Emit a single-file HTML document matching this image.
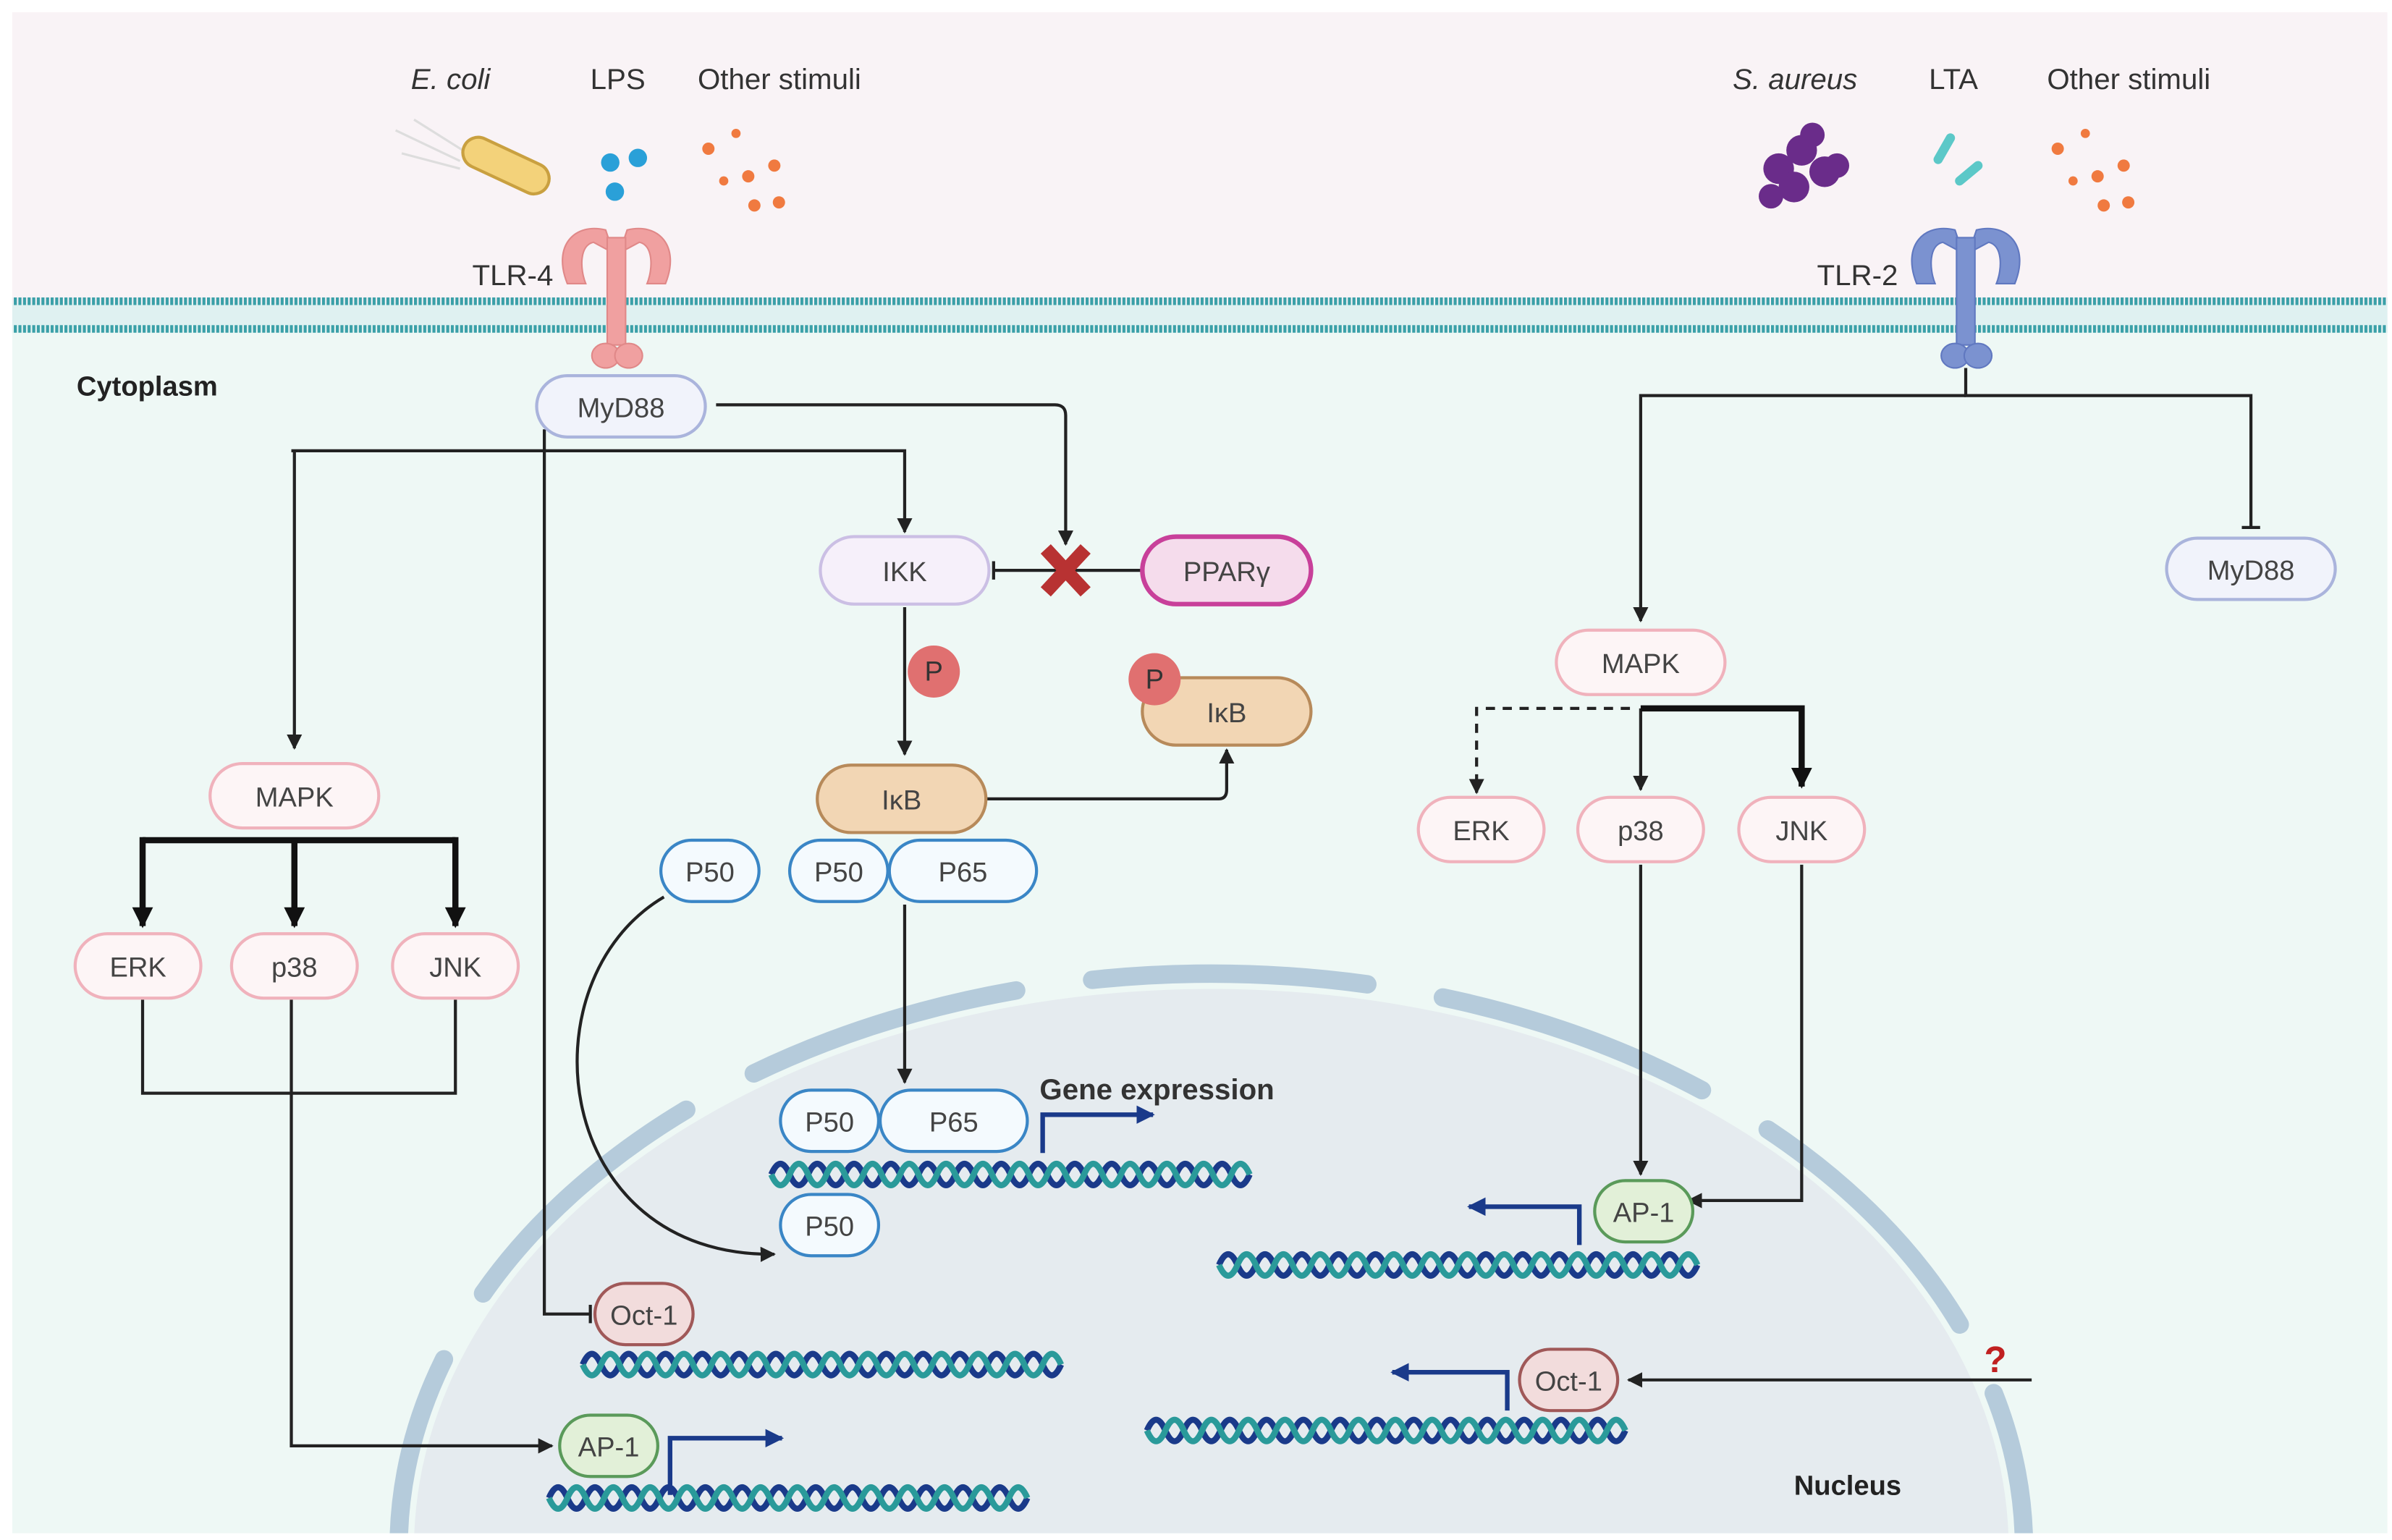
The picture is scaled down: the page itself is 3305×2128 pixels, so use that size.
<!DOCTYPE html>
<html><head><meta charset="utf-8"><style>
html,body{margin:0;padding:0;background:#fff;overflow:hidden;width:3305px;height:2128px}
svg{display:block}
text{font-family:"Liberation Sans",sans-serif}
</style></head><body>
<svg width="3305" height="2128" viewBox="0 0 1560 1004.4" preserveAspectRatio="none" xmlns="http://www.w3.org/2000/svg">
<defs>
<marker id="a" viewBox="0 0 10 10" refX="9" refY="5" markerWidth="5" markerHeight="5" orient="auto"><path d="M0,0L10,5L0,10z" fill="#222"/></marker>
<marker id="ab" viewBox="0 0 10 10" refX="9" refY="5" markerWidth="3.4" markerHeight="3.4" orient="auto"><path d="M0,0L10,5L0,10z" fill="#111"/></marker>
<marker id="an" viewBox="0 0 10 10" refX="9" refY="5" markerWidth="4" markerHeight="4" orient="auto"><path d="M0,0L10,5L0,10z" fill="#1a3a8a"/></marker>
<marker id="t" viewBox="0 0 4 12" refX="2" refY="6" markerWidth="4" markerHeight="12" orient="auto" markerUnits="userSpaceOnUse"><path d="M2,0V12" stroke="#222" stroke-width="2"/></marker>
<clipPath id="cy"><rect x="8" y="215" width="1549" height="785"/></clipPath>
<pattern id="mem" width="3" height="4" patternUnits="userSpaceOnUse"><rect width="2" height="4" fill="#3aa0a8"/></pattern>
<g id="dna">
<path d="M0,0 q6,-14 12,0 t12,0 t12,0 t12,0 t12,0 t12,0 t12,0 t12,0 t12,0 t12,0 t12,0 t12,0 t12,0 t12,0 t12,0 t12,0 t12,0 t12,0 t12,0 t12,0 t12,0 t12,0 t12,0 t12,0 t12,0 t12,0" stroke="#1a3a8a" fill="none" stroke-width="4"/>
<path d="M0,0 q6,14 12,0 t12,0 t12,0 t12,0 t12,0 t12,0 t12,0 t12,0 t12,0 t12,0 t12,0 t12,0 t12,0 t12,0 t12,0 t12,0 t12,0 t12,0 t12,0 t12,0 t12,0 t12,0 t12,0 t12,0 t12,0 t12,0" stroke="#2a9a9a" fill="none" stroke-width="4"/>
</g>
</defs>
<rect x="8" y="8" width="1549" height="190" fill="#f9f3f6"/>
<rect x="8" y="198" width="1549" height="802" fill="#eef8f5"/>
<rect x="8" y="194" width="1549" height="5" fill="url(#mem)"/>
<rect x="8" y="212" width="1549" height="5" fill="url(#mem)"/>
<rect x="8" y="199" width="1549" height="13" fill="#dff1f1"/>
<g clip-path="url(#cy)">
<ellipse cx="790" cy="1010" rx="520" ry="365" fill="#e5ebef"/>
<ellipse cx="790" cy="1010" rx="530" ry="375" fill="none" stroke="#b5cbdb" stroke-width="12" stroke-dasharray="180 50" stroke-linecap="round"/>
</g>
<text x="50" y="258" font-size="18" font-weight="bold" fill="#222">Cytoplasm</text>
<text x="1170" y="975" font-size="18" font-weight="bold" fill="#222">Nucleus</text>
<g font-size="19" fill="#333">
<text x="268" y="58" font-style="italic">E. coli</text><text x="385" y="58">LPS</text><text x="455" y="58">Other stimuli</text>
<text x="1130" y="58" font-style="italic">S. aureus</text><text x="1258" y="58">LTA</text><text x="1335" y="58">Other stimuli</text>
<text x="308" y="186">TLR-4</text><text x="1185" y="186">TLR-2</text>
</g>
<path d="M258,85L300,105M262,100L300,110M270,78L305,100" stroke="#ddd" stroke-width="1.5"/>
<rect x="300" y="98" width="60" height="20" rx="10" fill="#f3d27a" stroke="#c9a040" stroke-width="2" transform="rotate(25 330 108)"/>
<circle cx="398" cy="106" r="6" fill="#2aa0d8"/><circle cx="416" cy="103" r="6" fill="#2aa0d8"/><circle cx="401" cy="125" r="6" fill="#2aa0d8"/>
<g fill="#f07a40"><circle cx="462" cy="97" r="4"/><circle cx="480" cy="87" r="3"/><circle cx="488" cy="115" r="4"/><circle cx="505" cy="108" r="4"/><circle cx="492" cy="134" r="4"/><circle cx="508" cy="132" r="4"/><circle cx="472" cy="118" r="3"/></g>
<g fill="#6a2c8a"><circle cx="1160" cy="110" r="10"/><circle cx="1175" cy="98" r="10"/><circle cx="1190" cy="112" r="10"/><circle cx="1170" cy="122" r="10"/><circle cx="1155" cy="128" r="8"/><circle cx="1198" cy="108" r="8"/><circle cx="1182" cy="88" r="8"/></g>
<path d="M1272,90l-8,14M1290,108l-12,10" stroke="#5cc8c8" stroke-width="6" stroke-linecap="round"/>
<g fill="#f07a40"><circle cx="1342" cy="97" r="4"/><circle cx="1360" cy="87" r="3"/><circle cx="1368" cy="115" r="4"/><circle cx="1385" cy="108" r="4"/><circle cx="1372" cy="134" r="4"/><circle cx="1388" cy="132" r="4"/><circle cx="1352" cy="118" r="3"/></g>
<g fill="#f0a0a0" stroke="#e08888" stroke-width="1">
<path d="M370,185C360,160 375,145 395,150L400,165 387,158C378,160 378,175 382,185Z"/>
<path d="M434,185C444,160 429,145 409,150L404,165 417,158C426,160 426,175 422,185Z"/>
<rect x="396" y="155" width="12" height="70"/>
<ellipse cx="395" cy="232" rx="9" ry="8"/><ellipse cx="410" cy="232" rx="9" ry="8"/>
</g>
<g fill="#7b92d0" stroke="#6078c0" stroke-width="1">
<path d="M1250,185C1240,160 1255,145 1275,150L1280,165 1267,158C1258,160 1258,175 1262,185Z"/>
<path d="M1314,185C1324,160 1309,145 1289,150L1284,165 1297,158C1306,160 1306,175 1302,185Z"/>
<rect x="1276" y="155" width="12" height="70"/>
<ellipse cx="1275" cy="232" rx="9" ry="8"/><ellipse cx="1290" cy="232" rx="9" ry="8"/>
</g>
<g fill="none" stroke="#222" stroke-width="2">
<path d="M467,264H688Q695,264 695,271V355" marker-end="url(#a)"/>
<path d="M192,294V488" marker-end="url(#a)"/>
<path d="M190,294H590V347" marker-end="url(#a)"/>
<path d="M355,280V857H385" marker-end="url(#t)"/>
<path d="M745,372H648" marker-end="url(#t)"/>
<path d="M590,396V492" marker-end="url(#a)"/>
<path d="M643,521H795Q800,521 800,515V489" marker-end="url(#a)"/>
<path d="M590,590V706" marker-end="url(#a)"/>
<path d="M433,585C340,640 360,820 505,818" marker-end="url(#a)"/>
<path d="M93,652V713H297V652"/>
<path d="M190,652V943H360" marker-end="url(#a)"/>
<path d="M1282,240V258H1468V344" marker-end="url(#t)"/>
<path d="M1282,258H1070V405" marker-end="url(#a)"/>
<path d="M1063,462H963V517" stroke-dasharray="6 5" marker-end="url(#a)"/>
<path d="M1070,462V515" marker-end="url(#a)"/>
<path d="M1070,564V766" marker-end="url(#a)"/>
<path d="M1175,564V783H1101" marker-end="url(#a)"/>
<path d="M1325,900H1062" marker-end="url(#a)"/>
</g>
<g fill="none" stroke="#111" stroke-width="4">
<path d="M93,548H297"/>
<path d="M93,546V604" marker-end="url(#ab)"/>
<path d="M192,548V604" marker-end="url(#ab)"/>
<path d="M297,546V604" marker-end="url(#ab)"/>
<path d="M1070,462H1175V513" marker-end="url(#ab)"/>
</g>
<path d="M682,358L708,386M708,358L682,386" stroke="#b83232" stroke-width="9"/>
<use href="#dna" x="503" y="766"/>
<use href="#dna" x="380" y="890"/>
<use href="#dna" x="358" y="977"/>
<use href="#dna" x="795" y="825"/>
<use href="#dna" x="748" y="933"/>
<g fill="none" stroke="#1a3a8a" stroke-width="3">
<path d="M680,752V727H752" marker-end="url(#an)"/>
<path d="M437,975V938H510" marker-end="url(#an)"/>
<path d="M1030,812V787H958" marker-end="url(#an)"/>
<path d="M983,920V895H908" marker-end="url(#an)"/>
</g>
<text x="678" y="717" font-size="19" font-weight="bold" fill="#333">Gene expression</text>
<text x="1294" y="895" font-size="24" font-weight="bold" fill="#c02020">?</text>
<g font-size="18" text-anchor="middle" fill="#444" stroke-width="2">
<g stroke="#aab4dc" fill="#f1f3fb"><rect x="350" y="245" width="110" height="40" rx="20"/><rect x="1413" y="351" width="110" height="40" rx="20"/></g>
<rect x="535" y="350" width="110" height="44" rx="22" fill="#f6f0fa" stroke="#cbbfe4"/>
<rect x="745" y="350" width="110" height="44" rx="22" fill="#f5dcec" stroke="#c8409a" stroke-width="3"/>
<g fill="#f2d6b4" stroke="#b78a5a"><rect x="745" y="442" width="110" height="44" rx="22"/><rect x="533" y="499" width="110" height="44" rx="22"/></g>
<g fill="#f4fafe" stroke="#3a86c6"><rect x="431" y="548" width="64" height="40" rx="20"/><rect x="515" y="548" width="64" height="40" rx="20"/><rect x="580" y="548" width="96" height="40" rx="20"/>
<rect x="509" y="711" width="64" height="40" rx="20"/><rect x="574" y="711" width="96" height="40" rx="20"/><rect x="509" y="779" width="64" height="40" rx="20"/></g>
<g fill="#fdf5f6" stroke="#f0b2bc"><rect x="137" y="498" width="110" height="42" rx="21"/><rect x="49" y="609" width="82" height="42" rx="21"/><rect x="151" y="609" width="82" height="42" rx="21"/><rect x="256" y="609" width="82" height="42" rx="21"/>
<rect x="1015" y="411" width="110" height="42" rx="21"/><rect x="925" y="520" width="82" height="42" rx="21"/><rect x="1029" y="520" width="82" height="42" rx="21"/><rect x="1134" y="520" width="82" height="42" rx="21"/></g>
<g fill="#f2dcdc" stroke="#a05858"><rect x="388" y="837" width="64" height="40" rx="20"/><rect x="991" y="880" width="64" height="40" rx="20"/></g>
<g fill="#e2f0d8" stroke="#5a9a5a"><rect x="365" y="923" width="64" height="40" rx="20"/><rect x="1040" y="770" width="64" height="40" rx="20"/></g>
<g fill="#e07070" stroke="none"><circle cx="609" cy="438" r="17"/><circle cx="753" cy="443" r="17"/></g>
<g stroke="none">
<text x="405" y="272">MyD88</text><text x="1468" y="378">MyD88</text>
<text x="590" y="379">IKK</text><text x="800" y="379">PPARγ</text>
<text x="800" y="471">IκB</text><text x="588" y="528">IκB</text>
<text x="609" y="444" fill="#333">P</text><text x="753" y="449" fill="#333">P</text>
<text x="463" y="575">P50</text><text x="547" y="575">P50</text><text x="628" y="575">P65</text>
<text x="541" y="738">P50</text><text x="622" y="738">P65</text><text x="541" y="806">P50</text>
<text x="192" y="526">MAPK</text><text x="90" y="637">ERK</text><text x="192" y="637">p38</text><text x="297" y="637">JNK</text>
<text x="1070" y="439">MAPK</text><text x="966" y="548">ERK</text><text x="1070" y="548">p38</text><text x="1175" y="548">JNK</text>
<text x="420" y="864">Oct-1</text><text x="1023" y="907">Oct-1</text>
<text x="397" y="950">AP-1</text><text x="1072" y="797">AP-1</text>
</g>
</g>
</svg>
</body></html>
